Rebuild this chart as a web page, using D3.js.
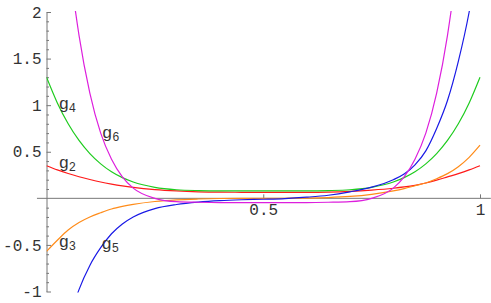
<!DOCTYPE html>
<html>
<head>
<meta charset="utf-8">
<script src="https://cdn.jsdelivr.net/npm/d3@7"></script>
<style>
  body { margin: 0; background: #fff; }
  svg { display: block; }
  .tick text { font-family: "Liberation Mono", "DejaVu Sans Mono", monospace; font-size: 16px; fill: #333; }
  .tick line { stroke: #777; }
  .domain { stroke: #777; }
  .lbl { font-family: "Liberation Mono", monospace; fill: #333; }
</style>
</head>
<body>
<svg id="chart" width="491" height="303"></svg>
<script>
// sample points
var xs = [0, .025, .05, .075, .1, .125, .15, .175, .2, .25, .3, .35, .4, .45, .5,
          .55, .6, .65, .7, .75, .8, .825, .85, .875, .9, .925, .95, .975, 1];

var g2 = [0.35, 0.305, 0.266, 0.232, 0.202, 0.175, 0.153, 0.134, 0.118, 0.094, 0.079, 0.070, 0.066, 0.065, 0.064,
          0.063, 0.063, 0.066, 0.074, 0.088, 0.108, 0.122, 0.14, 0.165, 0.195, 0.23, 0.265, 0.305, 0.35];
var g3 = [-0.57, -0.45, -0.34, -0.26, -0.20, -0.155, -0.115, -0.087, -0.065, -0.034, -0.016, -0.007, -0.002, 0, 0,
          0.001, 0.003, 0.008, 0.02, 0.043, 0.08, 0.105, 0.135, 0.165, 0.21, 0.265, 0.34, 0.44, 0.57];
var g4 = [1.3, 1.024, 0.80, 0.621, 0.48, 0.37, 0.285, 0.222, 0.175, 0.118, 0.092, 0.083, 0.08, 0.08, 0.08,
          0.08, 0.08, 0.083, 0.092, 0.118, 0.175, 0.222, 0.285, 0.37, 0.48, 0.621, 0.80, 1.024, 1.3];
var g5 = [-2.6, -1.9, -1.35, -0.98, -0.72, -0.53, -0.38, -0.275, -0.2, -0.11, -0.066, -0.04, -0.024, -0.015, -0.01,
          -0.003, 0.012, 0.033, 0.07, 0.12, 0.2, 0.26, 0.36, 0.51, 0.75, 1.05, 1.47, 2.0, 2.7];
var g6 = [5.55, 3.86, 2.63, 1.75, 1.13, 0.70, 0.42, 0.23, 0.11, 0.0, -0.036, -0.042, -0.045, -0.045, -0.045,
          -0.045, -0.045, -0.042, -0.036, 0.0, 0.11, 0.23, 0.42, 0.70, 1.13, 1.75, 2.63, 3.86, 5.55];

var seriesNames = ["2", "3", "4", "5", "6"];
var seriesValues = [g2, g3, g4, g5, g6];
var seriesColors = ["#ff1a1a", "#ff8c1a", "#1fcc1f", "#1a1ae6", "#dd1fdd"];

// where the g_n labels sit (data coordinates)
var labelX = [0.028, 0.028, 0.028, 0.127, 0.128];
var labelY = [0.326, -0.524, 0.96, -0.545, 0.65];

var yMajor = [-1, -0.5, 0.5, 1, 1.5, 2];
var xMajor = [0.5, 1];

window.onload = function() {

	var svg = d3.select("#chart");

	// scales
	var x = d3.scaleLinear().domain([0, 1]).range([46.5, 480]);
	var y = d3.scaleLinear().domain([-1, 2]).range([291.5, 12]);

	// minor y ticks every 0.1
	var yMinor = d3.range(-10, 21).map(function(i) { return i / 10; })
		.filter(function(v) { return Math.abs(v * 2 - Math.round(v * 2)) > 1e-9; });

	// x axis line, runs a little past both ends
	svg.append("line")
		.attr("x1", x(-0.022)).attr("x2", x(1.025))
		.attr("y1", y(0)).attr("y2", y(0))
		.attr("stroke", "#777");

	svg.append("g")
		.attr("transform", "translate(0," + y(0) + ")")
		.call(d3.axisBottom(x).tickValues(xMajor).tickSizeInner(-4).tickSizeOuter(0).tickPadding(5)
			.tickFormat(function(d) { return String(d); }))
		.call(function(g) { g.select(".domain").remove(); });

	// y axis
	svg.append("g")
		.attr("transform", "translate(" + x(0) + ",0)")
		.call(d3.axisLeft(y).tickValues(yMinor).tickSizeInner(-2.5).tickSizeOuter(0).tickFormat(""));

	svg.append("g")
		.attr("transform", "translate(" + x(0) + ",0)")
		.call(d3.axisLeft(y).tickValues(yMajor).tickSizeInner(-4.5).tickSizeOuter(0).tickPadding(5)
			.tickFormat(function(d) { return String(d); }))
		.call(function(g) { g.select(".domain").remove(); });

	// clip curves to the plot range
	svg.append("clipPath").attr("id", "clip")
		.append("rect")
		.attr("x", x(0)).attr("y", y(2) - 1)
		.attr("width", x(1) - x(0) + 1).attr("height", y(-1) - y(2) + 2);

	var line = d3.line()
		.x(function(d, i) { return x(xs[i]); })
		.y(function(d) { return y(d); })
		.curve(d3.curveMonotoneX);

	svg.append("g").attr("clip-path", "url(#clip)")
		.selectAll("path")
		.data(seriesValues)
		.enter().append("path")
		.attr("d", line)
		.attr("fill", "none")
		.attr("stroke-width", 1.2)
		.attr("stroke", function(d, i) { return seriesColors[i]; });

	// curve labels
	var lbl = svg.selectAll(".lbl")
		.data(seriesNames)
		.enter().append("text")
		.attr("class", "lbl")
		.attr("x", function(d, i) { return x(labelX[i]); })
		.attr("y", function(d, i) { return y(labelY[i]); })
		.style("font-size", "17px")
		.text("g");
	lbl.append("tspan")
		.attr("dy", 3)
		.style("font-size", "12px")
		.text(function(d) { return d; });
};
</script>
</body>
</html>
